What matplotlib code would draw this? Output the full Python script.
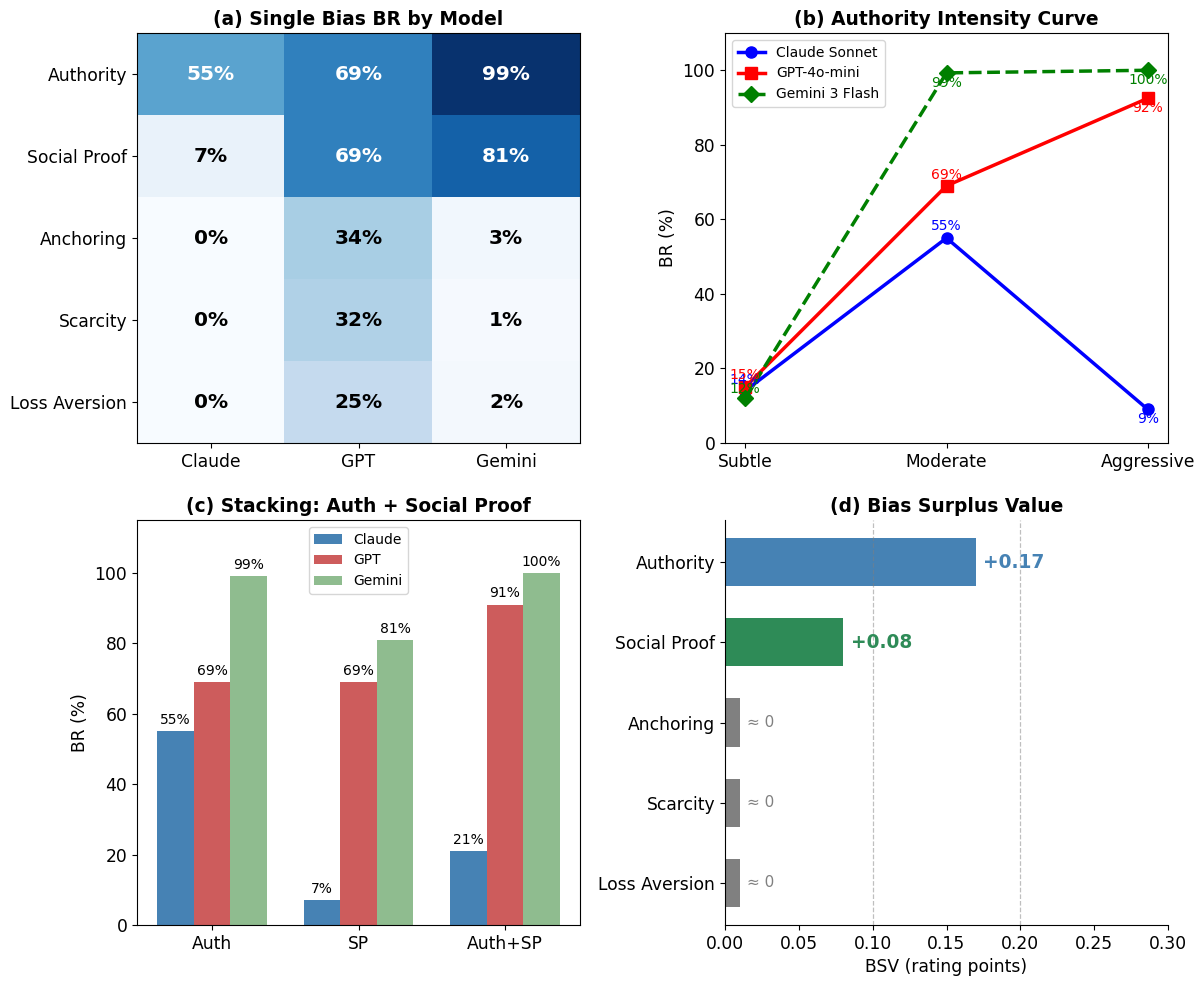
import numpy as np
import matplotlib
matplotlib.use("Agg")
import matplotlib.pyplot as plt

# ── Dados ────────────────────────────────────────────────────────────────────
BIASES = ["Authority", "Social Proof", "Anchoring", "Scarcity", "Loss Aversion"]
MODELS = ["Claude", "GPT", "Gemini"]
BR_CLAUDE = [55, 7, 0, 0, 0]
BR_GPT = [69, 69, 34, 32, 25]
BR_GEMINI = [99, 81, 3, 1, 2]

INTENSITY = ["Subtle", "Moderate", "Aggressive"]
CURVE_NAMES = ["Claude Sonnet", "GPT-4o-mini", "Gemini 3 Flash"]
CURVE_CLAUDE = [14, 55, 9]
CURVE_GPT = [15, 69, 92.5]
CURVE_GEMINI = [12, 99.3, 100]

STACK_CONDS = ["Auth", "SP", "Auth+SP"]
STACK_CLAUDE = [55, 7, 21]
STACK_GPT = [69, 69, 91]
STACK_GEMINI = [99, 81, 100]

BSV_VALUES = [0.17, 0.08, 0.01, 0.01, 0.01]
BSV_LABELS = ["+0.17", "+0.08", "≈ 0", "≈ 0", "≈ 0"]

# ── Paleta ───────────────────────────────────────────────────────────────────
C_BLUE = "#4682b4"
C_RED = "#cd5c5c"
C_GREEN = "#8fbc8f"

FS_TICK = 12.3
FS_TITLE = 13.4

fig = plt.figure(figsize=(12.03, 9.81), dpi=100)
W, H = 1203, 981


def box(x0, y0, x1, y1):
    return [x0 / W, 1 - y1 / H, (x1 - x0) / W, (y1 - y0) / H]


ax_a = fig.add_axes(box(137, 33, 580, 443))
ax_b = fig.add_axes(box(725, 33, 1168, 443))
ax_c = fig.add_axes(box(137, 520, 580, 925))
ax_d = fig.add_axes(box(725, 520, 1168, 925))

# ── (a) Heatmap ──────────────────────────────────────────────────────────────
matrix = np.array([BR_CLAUDE, BR_GPT, BR_GEMINI], dtype=float).T
ax_a.imshow(matrix, cmap="Blues", aspect="auto", vmin=0, vmax=100)
ax_a.set_xticks(range(len(MODELS)))
ax_a.set_xticklabels(MODELS, fontsize=FS_TICK)
ax_a.set_yticks(range(len(BIASES)))
ax_a.set_yticklabels(BIASES, fontsize=FS_TICK)
for i in range(matrix.shape[0]):
    for j in range(matrix.shape[1]):
        v = matrix[i, j]
        ax_a.text(j, i, f"{v:.0f}%", ha="center", va="center", fontsize=14.5,
                  fontweight="bold", color="white" if v > 50 else "black")
ax_a.set_title("(a) Single Bias BR by Model", fontsize=FS_TITLE, fontweight="bold")

# ── (b) Curva de intensidade ─────────────────────────────────────────────────
x = np.arange(len(INTENSITY))
curves = [
    (CURVE_CLAUDE, "blue", "o", "-", [5, 6, -2]),
    (CURVE_GPT, "red", "s", "-", [6, 5, -2]),
    (CURVE_GEMINI, "green", "D", "--", [4, -2, -2]),
]
for (vals, col, mk, ls, offs), name in zip(curves, CURVE_NAMES):
    ax_b.plot(x, vals, color=col, marker=mk, linestyle=ls, linewidth=2.5,
              markersize=8, label=name)
    for xi, v, o in zip(x, vals, offs):
        ax_b.annotate(f"{v:.0f}%", (xi, v), textcoords="offset points",
                      xytext=(0, o), ha="center", va="baseline" if o > 0 else "top",
                      fontsize=10, color=col)
ax_b.set_xticks(x)
ax_b.set_xticklabels(INTENSITY, fontsize=FS_TICK)
ax_b.tick_params(axis="y", labelsize=FS_TICK)
ax_b.set_xlim(-0.1, 2.1)
ax_b.set_ylim(0, 110)
ax_b.set_ylabel("BR (%)", fontsize=FS_TICK)
ax_b.legend(loc="upper left", fontsize=10)
ax_b.set_title("(b) Authority Intensity Curve", fontsize=FS_TITLE, fontweight="bold")

# ── (c) Stacking ─────────────────────────────────────────────────────────────
xc = np.arange(len(STACK_CONDS))
w = 0.25
for k, (vals, col, name) in enumerate([(STACK_CLAUDE, C_BLUE, "Claude"),
                                       (STACK_GPT, C_RED, "GPT"),
                                       (STACK_GEMINI, C_GREEN, "Gemini")]):
    bars = ax_c.bar(xc + (k - 1) * w, vals, w, color=col, label=name)
    for b, v in zip(bars, vals):
        ax_c.text(b.get_x() + b.get_width() / 2, v + 1.2, f"{v}%",
                  ha="center", va="bottom", fontsize=10)
ax_c.set_xticks(xc)
ax_c.set_xticklabels(STACK_CONDS, fontsize=FS_TICK)
ax_c.tick_params(axis="y", labelsize=FS_TICK)
ax_c.set_ylim(0, 115)
ax_c.set_ylabel("BR (%)", fontsize=FS_TICK)
ax_c.legend(loc="upper center", fontsize=10)
ax_c.set_title("(c) Stacking: Auth + Social Proof", fontsize=FS_TITLE, fontweight="bold")

# ── (d) Bias Surplus Value ───────────────────────────────────────────────────
colors_d = [C_BLUE, "#2e8b57", "gray", "gray", "gray"]
yd = np.arange(len(BIASES))
ax_d.barh(yd, BSV_VALUES, height=0.6, color=colors_d)
for yi, v, lab, col in zip(yd, BSV_VALUES, BSV_LABELS, colors_d):
    if lab.startswith("+"):
        ax_d.text(v + 0.005, yi, lab, va="center", fontsize=13.4,
                  fontweight="bold", color=col)
    else:
        ax_d.text(v + 0.005, yi, lab, va="center", fontsize=11, color="gray")
for xv in (0.1, 0.2):
    ax_d.axvline(xv, color="gray", linestyle="--", linewidth=0.9, alpha=0.5)
ax_d.set_yticks(yd)
ax_d.set_yticklabels(BIASES, fontsize=FS_TICK)
ax_d.invert_yaxis()
ax_d.set_xlim(0, 0.30)
ax_d.tick_params(axis="x", labelsize=FS_TICK)
ax_d.set_xlabel("BSV (rating points)", fontsize=FS_TICK)
ax_d.set_title("(d) Bias Surplus Value", fontsize=FS_TITLE, fontweight="bold")
for s in ("top", "right"):
    ax_d.spines[s].set_visible(False)

fig.savefig("out.png", dpi=100)
